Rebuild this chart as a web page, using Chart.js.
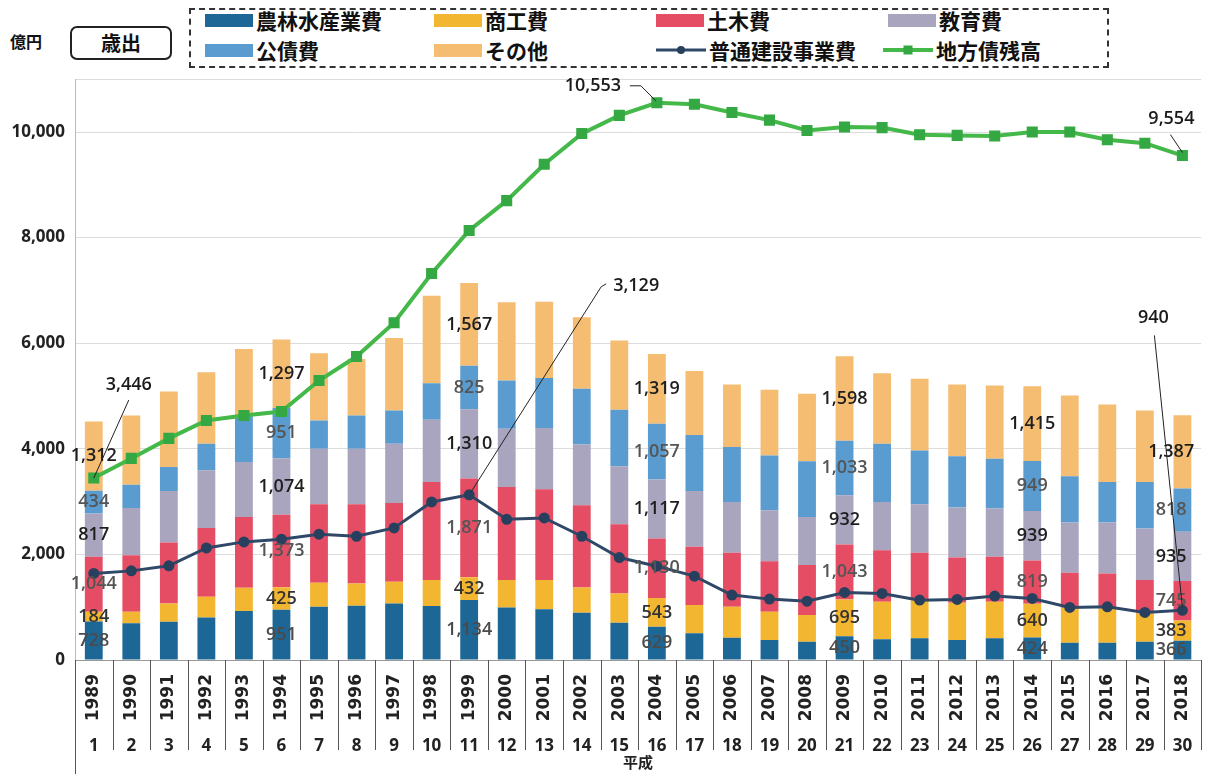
<!DOCTYPE html>
<html lang="ja">
<head>
<meta charset="utf-8">
<title>歳出</title>
<script src="https://cdn.jsdelivr.net/npm/chart.js@4.4.1/dist/chart.umd.min.js"></script>
<style>
  html, body { margin: 0; padding: 0; background: #fff; }
  body { width: 1217px; height: 774px; position: relative; overflow: hidden; font-family: "Noto Sans CJK JP", "Noto Sans", sans-serif; color: #111; }
  #unit { position: absolute; left: 10px; top: 29px; font-size: 16px; font-weight: 700; }
  #kind { position: absolute; left: 70px; top: 26px; width: 98px; height: 30px; border: 2px solid #222; border-radius: 7px; text-align: center; font-size: 20px; font-weight: 700; line-height: 30px; }
  #legend { position: absolute; left: 189px; top: 8px; width: 916px; height: 56px; border: 2px dashed #333; }
  .item { position: absolute; display: flex; align-items: center; height: 26px; font-size: 21px; font-weight: 700; white-space: nowrap; }
  .sw { width: 48px; height: 13px; margin-right: 3px; }
  .ln { position: relative; width: 50px; height: 14px; margin-right: 3px; }
  .ln i { position: absolute; left: 0; right: 0; top: 50%; transform: translateY(-50%); }
  .ln b { position: absolute; left: 50%; top: 50%; transform: translate(-50%, -50%); }
  #wrap { position: absolute; left: 0; top: 59px; width: 1217px; height: 715px; }
</style>
</head>
<body>
<div id="unit">億円</div>
<div id="kind">歳出</div>
<div id="legend"></div>
<div id="wrap"><canvas id="grafico"></canvas></div>
<script>
const years = ['1989', '1990', '1991', '1992', '1993', '1994', '1995', '1996', '1997', '1998',
  '1999', '2000', '2001', '2002', '2003', '2004', '2005', '2006', '2007', '2008',
  '2009', '2010', '2011', '2012', '2013', '2014', '2015', '2016', '2017', '2018']
const heisei = ['1', '2', '3', '4', '5', '6', '7', '8', '9', '10', '11', '12', '13', '14', '15',
  '16', '17', '18', '19', '20', '21', '22', '23', '24', '25', '26', '27', '28', '29', '30']

const nourin = [728, 694, 725, 807, 927, 951, 1009, 1028, 1072, 1022, 1134, 996, 959, 896, 707,
  629, 505, 423, 379, 347, 450, 392, 410, 379, 410, 424, 328, 328, 347, 366]
const shoko = [184, 220, 347, 391, 441, 425, 454, 422, 410, 491, 432, 517, 554, 479, 554,
  543, 536, 586, 535, 504, 695, 712, 725, 706, 694, 640, 662, 650, 536, 383]
const doboku = [1044, 1072, 1153, 1304, 1342, 1373, 1486, 1499, 1493, 1859, 1871, 1764, 1720, 1556, 1310,
  1130, 1102, 1021, 958, 946, 1043, 976, 895, 856, 850, 819, 662, 661, 630, 745]
const kyoiku = [817, 894, 976, 1090, 1040, 1074, 1053, 1053, 1121, 1178, 1310, 1103, 1159, 1152, 1097,
  1117, 1058, 964, 964, 913, 932, 914, 919, 946, 914, 939, 951, 964, 976, 935]
const kosai = [434, 441, 454, 504, 881, 951, 535, 629, 630, 693, 825, 913, 951, 1053, 1071,
  1057, 1059, 1039, 1039, 1052, 1033, 1102, 1021, 970, 945, 949, 876, 768, 882, 818]
const sonota = [1312, 1311, 1430, 1354, 1261, 1297, 1273, 1072, 1373, 1657, 1567, 1481, 1443, 1354, 1310,
  1319, 1215, 1184, 1242, 1279, 1598, 1336, 1355, 1360, 1386, 1415, 1531, 1468, 1355, 1387]
const futsuKensetsu = [1640, 1688, 1783, 2123, 2237, 2287, 2382, 2344, 2501, 2993, 3129, 2665, 2690, 2344, 1941,
  1777, 1588, 1229, 1153, 1115, 1279, 1260, 1134, 1147, 1210, 1166, 996, 1008, 901, 940]
const chihosaiZan = [3446, 3818, 4197, 4537, 4631, 4707, 5293, 5747, 6389, 7320, 8135, 8700, 9390, 9970, 10315,
  10553, 10526, 10370, 10225, 10030, 10096, 10083, 9949, 9936, 9923, 10000, 10000, 9853, 9788, 9554]

// anos com rótulos de valor nas barras
const anosRotulados = [0, 5, 10, 15, 20, 25, 29]

const fmt = v => v.toLocaleString('en-US')

// rótulos das linhas com linha de chamada (deslocamentos em px a partir do ponto)
const chamadas = [
  { ds: 7, i: 0, dx: 35, dy: -93, path: [[35, -78], [0, 0]] },
  { ds: 7, i: 15, dx: -64, dy: -17, path: [[-27, -17], [-16, -17], [-1, -2]] },
  { ds: 7, i: 29, dx: -11, dy: -37, path: [[-12, -21], [0, -3]] },
  { ds: 6, i: 10, dx: 167, dy: -209, path: [[137, -211], [132, -208], [2, -3]] },
  { ds: 6, i: 29, dx: -29, dy: -292, path: [[-28, -275], [0, -3]] }
]

const rotulosValores = {
  id: 'rotulosValores',
  afterDatasetsDraw(chart) {
    const ctx = chart.ctx
    const area = chart.chartArea
    ctx.save()
    ctx.font = '600 18px "Open Sans"'
    ctx.textAlign = 'center'
    ctx.textBaseline = 'middle'
    chart.data.datasets.forEach((ds, d) => {
      if (ds.type !== 'bar') return
      const meta = chart.getDatasetMeta(d)
      ctx.fillStyle = ds.labelColor
      anosRotulados.forEach(i => {
        const el = meta.data[i]
        const x = Math.min(el.x, area.right - 30)
        ctx.fillText(fmt(ds.data[i]), x, (el.y + el.base) / 2)
      })
    })

    ctx.fillStyle = '#1a1a1a'
    ctx.strokeStyle = '#222'
    ctx.lineWidth = 1
    chamadas.forEach(c => {
      const el = chart.getDatasetMeta(c.ds).data[c.i]
      ctx.beginPath()
      c.path.forEach(([px, py], k) => {
        if (k === 0) ctx.moveTo(el.x + px, el.y + py)
        else ctx.lineTo(el.x + px, el.y + py)
      })
      ctx.stroke()
      ctx.fillText(fmt(chart.data.datasets[c.ds].data[c.i]), el.x + c.dx, el.y + c.dy)
    })
    ctx.restore()
  }
}

const separadores = {
  id: 'separadores',
  afterDraw(chart) {
    const x = chart.scales.x
    const ctx = chart.ctx
    const passo = x.getPixelForValue(1) - x.getPixelForValue(0)
    ctx.save()
    ctx.strokeStyle = '#555'
    ctx.lineWidth = 1
    for (let i = 0; i <= years.length; i++) {
      const px = Math.round(x.getPixelForValue(i) - passo / 2) + 0.5
      ctx.beginPath()
      ctx.moveTo(px, chart.chartArea.bottom)
      ctx.lineTo(px, i === 0 ? chart.height : chart.scales.x2.bottom - 24)
      ctx.stroke()
    }
    ctx.restore()
  }
}

function barra(label, data, cor, corRotulo) {
  return { type: 'bar', label, data, backgroundColor: cor, stack: 'barras', order: 1,
    barPercentage: 0.5, categoryPercentage: 0.95, labelColor: corRotulo }
}

const datasets = [
  barra('農林水産業費', nourin, '#1d6796', '#4a4a4a'),
  barra('商工費', shoko, '#f3b630', '#333'),
  barra('土木費', doboku, '#e44d64', '#555'),
  barra('教育費', kyoiku, '#a9a5bf', '#1e1e1e'),
  barra('公債費', kosai, '#5a9bd0', '#555'),
  barra('その他', sonota, '#f5bd72', '#1e1e1e'),
  { type: 'line', label: '普通建設事業費', data: futsuKensetsu, stack: 'l1', order: 0,
    borderColor: '#2f4868', borderWidth: 3, pointStyle: 'circle', pointRadius: 4,
    pointBackgroundColor: '#283f5e', pointBorderColor: '#283f5e' },
  { type: 'line', label: '地方債残高', data: chihosaiZan, stack: 'l2', order: 0,
    borderColor: '#45b84a', borderWidth: 4, pointStyle: 'rect', pointRadius: 5,
    pointBackgroundColor: '#33a843', pointBorderColor: '#33a843' }
]

const ctx = document.getElementById('grafico').getContext('2d')
const chart = new Chart(ctx, {
  type: 'bar',
  data: { labels: years, datasets },
  options: {
    responsive: true,
    maintainAspectRatio: false,
    animation: false,
    layout: { padding: { top: 8, left: 5, right: 12, bottom: 0 } },
    plugins: { legend: { display: false }, tooltip: { enabled: false } },
    scales: {
      x: {
        stacked: true,
        weight: 0,
        offset: true,
        grid: { display: false, drawTicks: false },
        border: { display: true, color: '#999' },
        ticks: { autoSkip: false, maxRotation: 90, minRotation: 90, padding: 14,
          color: '#222', font: { family: 'DejaVu Sans', weight: 'bold', size: 17 } },
        afterFit: s => { s.height = 76 }
      },
      x2: {
        type: 'category',
        labels: heisei,
        position: 'bottom',
        weight: 1,
        offset: true,
        grid: { display: false, drawTicks: false },
        border: { display: false },
        ticks: { autoSkip: false, maxRotation: 0, padding: 0, color: '#222',
          font: { family: 'Open Sans', weight: 'bold', size: 17 } },
        title: { display: true, text: '平成', color: '#222', padding: { top: 0, bottom: 3 },
          font: { family: 'Noto Sans CJK JP', weight: 'bold', size: 15 } },
        afterFit: s => { s.height = 38 }
      },
      y: {
        stacked: true,
        min: 0,
        max: 11000,
        border: { display: true, color: '#bbb' },
        grid: {
          drawTicks: false,
          color: c => (c.tick.value % 2000 === 0 || c.tick.value === 11000) ? '#dcdcdc' : 'rgba(0,0,0,0)'
        },
        ticks: {
          stepSize: 1000,
          padding: 10,
          color: '#222',
          font: { family: 'Open Sans', weight: 'bold', size: 17 },
          callback: v => (v % 2000 === 0 ? fmt(v) : '')
        },
        afterFit: s => { s.width = 70 }
      }
    }
  },
  plugins: [rotulosValores, separadores]
})

// legenda em HTML montada a partir dos datasets
const posLegenda = [[14, -3], [243, -3], [465, -3], [697, -3], [14, 27], [243, 27], [465, 27], [692, 27]]
const legenda = document.getElementById('legend')
chart.data.datasets.forEach((ds, k) => {
  const item = document.createElement('div')
  item.className = 'item'
  item.style.left = posLegenda[k][0] + 'px'
  item.style.top = posLegenda[k][1] + 'px'
  if (ds.type === 'bar') {
    item.innerHTML = `<span class="sw" style="background:${ds.backgroundColor}"></span>${ds.label}`
  } else {
    const quadrado = ds.pointStyle === 'rect'
    const tam = quadrado ? 9 : 8
    item.innerHTML = `<span class="ln"><i style="height:${ds.borderWidth}px;background:${ds.borderColor}"></i>` +
      `<b style="width:${tam}px;height:${tam}px;background:${ds.pointBackgroundColor};border-radius:${quadrado ? 0 : 50}%"></b></span>${ds.label}`
  }
  legenda.appendChild(item)
})
</script>
</body>
</html>
